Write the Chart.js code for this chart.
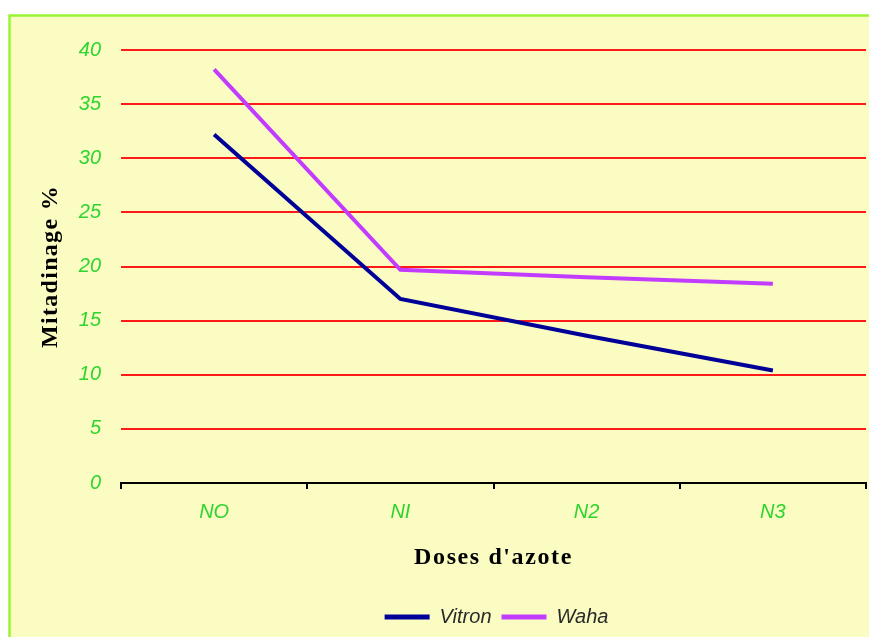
<!DOCTYPE html>
<html>
<head>
<meta charset="utf-8">
<script src="https://cdn.jsdelivr.net/npm/chart.js@4"></script>
<style>
  html, body { margin: 0; padding: 0; background: #ffffff; }
  #wrap { position: absolute; left: 0; top: 0; width: 869px; height: 637px; }
</style>
</head>
<body>
<div id="wrap"><canvas id="c" width="869" height="637"></canvas></div>
<script>
// Nitrogen dose levels and the measured rate per variety
const doses = ['NO', 'NI', 'N2', 'N3'];
const vitron = [32.2, 17.0, 13.6, 10.4];
const waha = [38.2, 19.7, 19.0, 18.4];
const yTicks = [0, 5, 10, 15, 20, 25, 30, 35, 40];

const green = '#2fd42f';

// Pale yellow panel with a green frame behind the whole chart
const panel = {
  id: 'panel',
  beforeDraw(chart) {
    const ctx = chart.ctx;
    ctx.save();
    ctx.fillStyle = '#ffffff';
    ctx.fillRect(0, 0, chart.width, chart.height);
    ctx.fillStyle = '#fbfcc2';
    ctx.fillRect(9, 15, chart.width, chart.height);
    ctx.strokeStyle = '#99f533';
    ctx.lineWidth = 2.5;
    ctx.strokeRect(9.5, 15.5, chart.width + 10, chart.height + 10);
    ctx.restore();
  }
};

// Centre the legend under the plot area and space out the axis titles
const tweaks = {
  id: 'tweaks',
  afterLayout(chart) {
    const lg = chart.legend;
    const area = chart.chartArea;
    const dx = (area.left + area.right) / 2 - (lg.left + lg.right) / 2 + 3;
    lg.left += dx;
    lg.right += dx;
    [['x', '1.6px'], ['y', '1.3px']].forEach(([id, sp]) => {
      const scale = chart.scales[id];
      if (scale._spaced) return;
      const orig = scale.drawTitle;
      scale.drawTitle = function (...args) {
        const ctx = this.ctx;
        ctx.save();
        ctx.letterSpacing = sp;
        orig.apply(this, args);
        ctx.restore();
      };
      scale._spaced = true;
    });
  }
};

new Chart(document.getElementById('c'), {
  type: 'line',
  data: {
    labels: doses,
    datasets: [
      { label: 'Vitron', data: vitron, borderColor: '#000099', backgroundColor: '#000099',
        borderWidth: 4, pointRadius: 0, tension: 0 },
      { label: 'Waha', data: waha, borderColor: '#c13cff', backgroundColor: '#c13cff',
        borderWidth: 4, pointRadius: 0, tension: 0 }
    ]
  },
  options: {
    responsive: false,
    animation: false,
    layout: { padding: { top: 50, left: 36, right: 3, bottom: 0 } },
    plugins: {
      tooltip: { enabled: false },
      legend: {
        position: 'bottom',
        labels: {
          boxWidth: 45,
          boxHeight: 5,
          padding: 10,
          color: '#2a2a2a',
          font: { family: 'Liberation Sans', style: 'italic', size: 20 },
          generateLabels(chart) {
            return Chart.defaults.plugins.legend.labels.generateLabels(chart)
              .map(l => Object.assign(l, { lineWidth: 0, fillStyle: l.strokeStyle }));
          }
        }
      }
    },
    scales: {
      x: {
        offset: true,
        afterFit(scale) { scale.height = 114; },
        border: { display: true, color: '#000000', width: 2 },
        grid: { display: true, offset: true, drawOnChartArea: false, drawTicks: true,
                tickLength: 6, color: '#000000', lineWidth: 2 },
        ticks: { color: green, padding: 11,
                 font: { family: 'Liberation Sans', style: 'italic', size: 20 } },
        title: { display: true, text: "Doses d'azote", color: '#000000',
                 padding: { top: 0, bottom: 25 },
                 font: { family: 'Liberation Serif', weight: 'bold', size: 24 } }
      },
      y: {
        min: 0,
        max: 40,
        afterFit(scale) { scale.width = 85; },
        afterBuildTicks(scale) { scale.ticks = yTicks.map(v => ({ value: v })); },
        border: { display: false },
        grid: {
          drawTicks: false,
          lineWidth: 2,
          color: ctx => (ctx.tick && ctx.tick.value === 0) ? '#000000' : '#ff1a1a'
        },
        ticks: { color: green, padding: 20,
                 font: { family: 'Liberation Sans', style: 'italic', size: 20 } },
        title: { display: true, text: 'Mitadinage %', color: '#000000', padding: 0,
                 font: { family: 'Liberation Serif', weight: 'bold', size: 24 } }
      }
    }
  },
  plugins: [panel, tweaks]
});
</script>
</body>
</html>
